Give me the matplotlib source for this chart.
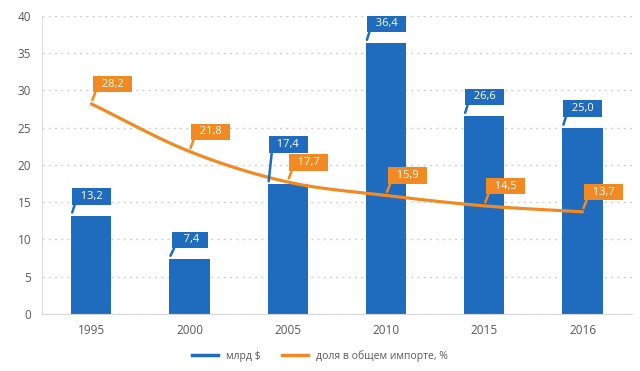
import numpy as np
import matplotlib.pyplot as plt

# Данные
years = ["1995", "2000", "2005", "2010", "2015", "2016"]
bln_usd = [13.2, 7.4, 17.4, 36.4, 26.6, 25.0]
share_pct = [28.2, 21.8, 17.7, 15.9, 14.5, 13.7]

blue = "#1f6bbd"
orange = "#f28a24"
gray = "#595959"

plt.rcParams["font.family"] = ["Open Sans", "DejaVu Sans"]

fig = plt.figure(figsize=(6.4, 3.71), dpi=100)
ax = fig.add_axes([0.066, 0.154, 0.921, 0.803])

x = np.arange(len(years))
bw = 0.41
ax.bar(x, bln_usd, width=bw, color=blue, zorder=2)


# сглаженная линия (Catmull-Rom, как в Excel)
def smooth(xs, ys, steps=30):
    px = np.concatenate([[2 * xs[0] - xs[1]], xs, [2 * xs[-1] - xs[-2]]])
    py = np.concatenate([[2 * ys[0] - ys[1]], ys, [2 * ys[-1] - ys[-2]]])
    outx, outy = [], []
    for i in range(1, len(px) - 2):
        t = np.linspace(0, 1, steps)
        for p, out in ((px, outx), (py, outy)):
            p0, p1, p2, p3 = p[i - 1], p[i], p[i + 1], p[i + 2]
            out.extend(0.5 * (2 * p1 + (-p0 + p2) * t
                              + (2 * p0 - 5 * p1 + 4 * p2 - p3) * t ** 2
                              + (-p0 + 3 * p1 - 3 * p2 + p3) * t ** 3))
    return outx, outy


sx, sy = smooth(x.astype(float), np.array(share_pct))
ax.plot(sx, sy, color=orange, lw=2.3, zorder=3, solid_capstyle="round")


def fmt(v):
    s = f"{v:.1f}".replace(".", ",")
    return "  " + s.rjust(4) + "  " if len(s) < 4 else "  " + s + "  "


# подписи-выноски (у 2005 синяя поднята, чтобы не перекрывалась с оранжевой)
blue_lift = {2: 15}
for i, (xi, v) in enumerate(zip(x, bln_usd)):
    ax.annotate(fmt(v), xy=(xi - bw / 2 + 0.01, v + 0.4), xytext=(14, 11.5 + blue_lift.get(i, 0)),
                textcoords="offset points", ha="center", va="center", color="white",
                fontsize=8, zorder=5,
                bbox=dict(boxstyle="square,pad=0.25", fc=blue, ec="none"),
                arrowprops=dict(arrowstyle="-", color=blue, lw=1.8, shrinkA=0, shrinkB=0,
                                relpos=(0.02, 0)))

for xi, v in zip(x, share_pct):
    ax.annotate(fmt(v), xy=(xi + 0.01, v + 0.5), xytext=(14.5, 11.5), textcoords="offset points",
                ha="center", va="center", color="white", fontsize=8, zorder=6,
                bbox=dict(boxstyle="square,pad=0.25", fc=orange, ec="none"),
                arrowprops=dict(arrowstyle="-", color=orange, lw=1.8, shrinkA=0, shrinkB=0,
                                relpos=(0.02, 0)))

ax.set_xlim(-0.5, len(years) - 0.5)
ax.set_ylim(0, 40)
ax.set_yticks(range(0, 41, 5))
ax.set_xticks(x)
ax.set_xticklabels(years)
ax.tick_params(colors=gray, labelsize=8.5, length=0)
ax.tick_params(axis="x", pad=7)
ax.tick_params(axis="y", pad=8)
ax.grid(axis="y", color="#d0d0d0", linestyle=(0, (1.5, 3)), lw=1, zorder=0)
for s in ["top", "right"]:
    ax.spines[s].set_visible(False)
ax.spines["left"].set_color("#dcdcdc")
ax.spines["bottom"].set_color("#d9d9d9")

handles = [plt.Line2D([], [], color=blue, lw=2.5), plt.Line2D([], [], color=orange, lw=2.5)]
fig.legend(handles, ["млрд $", "доля в общем импорте, %"], loc="center", bbox_to_anchor=(0.5, 0.04),
           ncol=2, frameon=False, fontsize=7.5, labelcolor=gray, handlelength=2.5, columnspacing=2.0)

fig.savefig("out.png", dpi=100)
